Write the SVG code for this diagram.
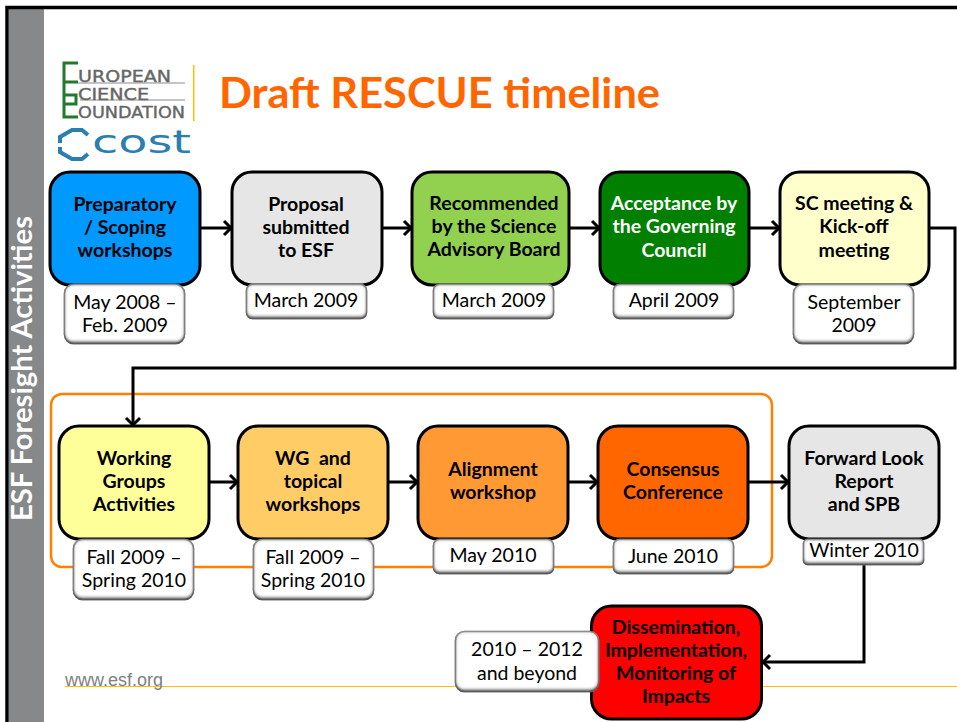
<svg xmlns="http://www.w3.org/2000/svg" width="957" height="722" viewBox="0 0 957 722">
<style>
.n{stroke:#000;stroke-width:3}
.t{font-family:Lato,"Liberation Sans",sans-serif;font-weight:700;font-size:19.5px;text-anchor:middle;fill:#000}
.d{font-family:Lato,"Liberation Sans",sans-serif;font-size:19.5px;text-anchor:middle;fill:#000}
.b{fill:#fff;stroke:#a6a6a6;stroke-width:1.5;filter:url(#bev)}
.c{fill:none;stroke:#000;stroke-width:3;marker-end:url(#a)}
.l{font-family:"DejaVu Sans",sans-serif;fill:#666;stroke:#666;stroke-width:.4}
</style>
<defs>
<marker id="a" markerUnits="userSpaceOnUse" markerWidth="16" markerHeight="20" refX="13" refY="10" orient="auto"><path d="M6 3 L13 10 L6 17" fill="none" stroke="#000" stroke-width="3"/></marker>
<filter id="bev" x="-15%" y="-40%" width="130%" height="180%">
<feFlood flood-color="#555" result="f"/>
<feComposite in="f" in2="SourceAlpha" operator="out" result="o"/>
<feOffset in="o" dy="-3" result="o2"/>
<feGaussianBlur in="o2" stdDeviation="1.500" result="bl"/>
<feComposite in="bl" in2="SourceAlpha" operator="in" result="in"/>
<feGaussianBlur in="o" stdDeviation="2.200" result="bl2"/>
<feComposite in="bl2" in2="SourceAlpha" operator="in" result="in2"/>
<feMerge><feMergeNode in="SourceGraphic"/><feMergeNode in="in"/><feMergeNode in="in2"/></feMerge>
</filter>
</defs>
<rect width="957" height="722" fill="#fff"/>
<g id="frame">
<rect x="9" y="8" width="35" height="714" fill="#87888a"/>
<path d="M7 722V7.500H957" fill="none" stroke="#000" stroke-width="3.500"/>
<text transform="translate(32 368.500) rotate(-90)" text-anchor="middle" font-family="Lato,'Liberation Sans',sans-serif" font-weight="700" font-size="29" fill="#fff" textLength="305" lengthAdjust="spacingAndGlyphs">ESF Foresight Activities</text>
</g>
<g id="logo">
<rect x="193" y="65" width="1.500" height="56" fill="#ffc000"/>
<path d="M78 63H64V117M64 82H78M64 82V95H76V104H64V117H78" fill="none" stroke="#1f7a2e" stroke-width="3"/>
<path d="M78 83H185M80 100H185" stroke="#8a8a8a" stroke-width="1"/>
<text class="l" x="78" y="82" font-size="15.500" textLength="93" lengthAdjust="spacingAndGlyphs">UROPEAN</text>
<text class="l" x="78" y="100" font-size="15.500" textLength="71" lengthAdjust="spacingAndGlyphs">CIENCE</text>
<text class="l" x="78" y="118" font-size="15.500" textLength="107" lengthAdjust="spacingAndGlyphs">OUNDATION</text>
<path d="M60 143V137L72 130H82L88 135M60 147V152L72 159H82L88 154" fill="none" stroke="#2a7fb0" stroke-width="4"/>
<text x="92" y="153" font-family="'DejaVu Sans',sans-serif" font-size="32" fill="#2a7fb0" textLength="99" lengthAdjust="spacingAndGlyphs">cost</text>
</g>
<text id="title" x="219" y="108" font-family="Lato,'Liberation Sans',sans-serif" font-weight="700" font-size="41.500" fill="#ff6600" textLength="441" lengthAdjust="spacingAndGlyphs">Draft RESCUE timeline</text>
<g id="footer">
<path d="M65 686.500H957" stroke="#ffc000" stroke-width="1"/>
<text x="65" y="686" font-family="'Liberation Sans',sans-serif" font-size="18" fill="#808080">www.esf.org</text>
</g>
<rect id="group-frame" x="51" y="394" width="721" height="173" rx="11" fill="none" stroke="#ff8000" stroke-width="2.500"/>
<g id="connectors">
<path class="c" d="M201 228H231"/>
<path class="c" d="M383 228H411"/>
<path class="c" d="M570 228H599"/>
<path class="c" d="M750 228H779"/>
<path class="c" d="M930 228H955V368H133V425"/>
<path class="c" d="M210 482H237"/>
<path class="c" d="M389 482H417"/>
<path class="c" d="M569 482H597"/>
<path class="c" d="M749 482H788"/>
<path class="c" d="M864 565V662H763"/>
</g>
<g id="n1"><rect class="n" x="50" y="172" width="150" height="113" rx="20" fill="#0099ff"/><text class="t" x="125" y="211">Preparatory</text><text class="t" x="125" y="234">/ Scoping</text><text class="t" x="125" y="257">workshops</text></g>
<g id="d1"><rect class="b" x="64.500" y="284.500" width="120" height="59" rx="9"/><text class="d" x="125" y="309">May 2008 –</text><text class="d" x="125" y="332">Feb. 2009</text></g>
<g id="n2"><rect class="n" x="232" y="172" width="150" height="113" rx="20" fill="#e6e6e6"/><text class="t" x="306" y="211">Proposal</text><text class="t" x="306" y="234">submitted</text><text class="t" x="306" y="257">to ESF</text></g>
<g id="d2"><rect class="b" x="246.500" y="284.500" width="120" height="34" rx="6"/><text class="d" x="306" y="307">March 2009</text></g>
<g id="n3"><rect class="n" x="412" y="172" width="157" height="113" rx="20" fill="#92d050"/><text class="t" x="494" y="210">Recommended</text><text class="t" x="494" y="233">by the Science</text><text class="t" x="494" y="256">Advisory Board</text></g>
<g id="d3"><rect class="b" x="433.500" y="284.500" width="120" height="34" rx="6"/><text class="d" x="494" y="307">March 2009</text></g>
<g id="n4"><rect class="n" x="600" y="172" width="149" height="113" rx="20" fill="#007f00"/><text class="t" x="674" y="210" style="fill:#fff">Acceptance by</text><text class="t" x="674" y="233" style="fill:#fff">the Governing</text><text class="t" x="674" y="257" style="fill:#fff">Council</text></g>
<g id="d4"><rect class="b" x="613.500" y="284.500" width="120" height="34" rx="6"/><text class="d" x="674" y="307">April 2009</text></g>
<g id="n5"><rect class="n" x="780" y="172" width="149" height="113" rx="20" fill="#ffffcc"/><text class="t" x="854" y="210">SC meeting &amp;</text><text class="t" x="854" y="233">Kick-off</text><text class="t" x="854" y="257">meeting</text></g>
<g id="d5"><rect class="b" x="793.500" y="284.500" width="120" height="59" rx="9"/><text class="d" x="854" y="309">September</text><text class="d" x="854" y="332">2009</text></g>
<g id="n6"><rect class="n" x="59" y="426" width="150" height="113" rx="20" fill="#ffff99"/><text class="t" x="134" y="465">Working</text><text class="t" x="134" y="488">Groups</text><text class="t" x="134" y="511">Activities</text></g>
<g id="d6"><rect class="b" x="73.500" y="539.500" width="120" height="60" rx="9"/><text class="d" x="134" y="564">Fall 2009 –</text><text class="d" x="134" y="587">Spring 2010</text></g>
<g id="n7"><rect class="n" x="238" y="426" width="150" height="113" rx="20" fill="#ffcc66"/><text class="t" x="313" y="465" xml:space="preserve">WG  and</text><text class="t" x="313" y="488">topical</text><text class="t" x="313" y="511">workshops</text></g>
<g id="d7"><rect class="b" x="253.500" y="539.500" width="120" height="60" rx="9"/><text class="d" x="313" y="564">Fall 2009 –</text><text class="d" x="313" y="587">Spring 2010</text></g>
<g id="n8"><rect class="n" x="418" y="426" width="150" height="113" rx="20" fill="#ff9933"/><text class="t" x="493" y="476">Alignment</text><text class="t" x="493" y="499">workshop</text></g>
<g id="d8"><rect class="b" x="433.500" y="539.500" width="120" height="34" rx="6"/><text class="d" x="493" y="562">May 2010</text></g>
<g id="n9"><rect class="n" x="598" y="426" width="150" height="113" rx="20" fill="#ff6600"/><text class="t" x="673" y="476">Consensus</text><text class="t" x="673" y="499">Conference</text></g>
<g id="d9"><rect class="b" x="613.500" y="539.500" width="120" height="34" rx="6"/><text class="d" x="673" y="563">June 2010</text></g>
<g id="n10"><rect class="n" x="789" y="426" width="150" height="113" rx="20" fill="#e6e6e6"/><text class="t" x="864" y="465">Forward Look</text><text class="t" x="864" y="488">Report</text><text class="t" x="864" y="511">and SPB</text></g>
<g id="d10"><rect class="b" x="803.500" y="539.500" width="120" height="25" rx="4"/><text class="d" x="864" y="557">Winter 2010</text></g>
<g id="n11"><rect class="n" x="591.500" y="606" width="170" height="113" rx="20" fill="#ff0000"/><text class="t" x="676" y="634">Dissemination,</text><text class="t" x="676" y="657">Implementation,</text><text class="t" x="676" y="680">Monitoring of</text><text class="t" x="676" y="703">Impacts</text></g>
<g id="d11"><rect class="b" x="455.500" y="631.500" width="143" height="60" rx="9"/><text class="d" x="527" y="656">2010 – 2012</text><text class="d" x="527" y="680">and beyond</text></g>
</svg>
